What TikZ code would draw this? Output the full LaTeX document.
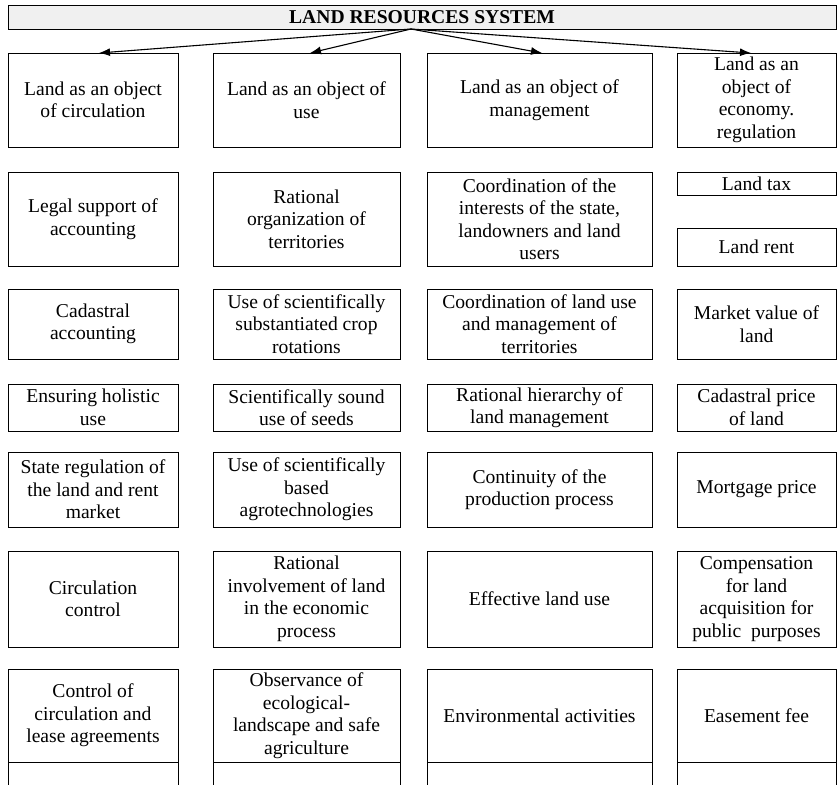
\documentclass[tikz,border=0pt]{standalone}
\usepackage{fontspec}
\setmainfont{Liberation Serif}
\usetikzlibrary{arrows.meta}
\tikzset{
  cell/.style={draw=black, line width=0.9pt, inner sep=0pt, outer sep=0pt, align=center,
    font=\fontsize{19.6}{22.5}\selectfont},
  hdrbox/.style={draw=black, line width=0.9pt, fill=gray!12, inner sep=0pt, outer sep=0pt,
    font=\fontsize{19.6}{22.5}\selectfont\bfseries, minimum width=828, minimum height=24},
  arr/.style={line width=1.1pt, -{Latex[length=11pt,width=8pt]}},
  tail/.style={line width=0.9pt}
}
\begin{document}
\begin{tikzpicture}[x=1pt,y=-1pt]
\useasboundingbox (0,0) rectangle (838,785);
% header
\node[hdrbox] (hdr) at (422,17) {LAND RESOURCES SYSTEM};
\coordinate (src) at ([xshift=-11pt]hdr.south);
\coordinate (bot) at (0,785);
% row 1
\node[cell, minimum width=170, minimum height=94] (a1) at (93,100) {Land as an object\\of circulation};
\node[cell, minimum width=187, minimum height=94] (a2) at (306.5,100) {Land as an object of\\use};
\node[cell, minimum width=225, minimum height=94] (a3) at (539.5,100) {Land as an object of\\management};
\node[cell, minimum width=159, minimum height=94] (a4) at (756.5,100) {Land as an\\object of\\economy.\\regulation};
% row 2
\node[cell, minimum width=170, minimum height=94] (b1) at (93,219) {Legal support of\\accounting};
\node[cell, minimum width=187, minimum height=94] (b2) at (306.5,219) {Rational\\organization of\\territories};
\node[cell, minimum width=225, minimum height=94] (b3) at (539.5,219) {Coordination of the\\interests of the state,\\landowners and land\\users};
\node[cell, minimum width=159, minimum height=23] (b4) at (756.5,183.5) {Land tax};
\node[cell, minimum width=159, minimum height=38] (b5) at (756.5,247) {Land rent};
% row 3
\node[cell, minimum width=170, minimum height=70] (c1) at (93,324) {Cadastral\\accounting};
\node[cell, minimum width=187, minimum height=70] (c2) at (306.5,324) {Use of scientifically\\substantiated crop\\rotations};
\node[cell, minimum width=225, minimum height=70] (c3) at (539.5,324) {Coordination of land use\\and management of\\territories};
\node[cell, minimum width=159, minimum height=70] (c4) at (756.5,324) {Market value of\\land};
% row 4
\node[cell, minimum width=170, minimum height=47] (d1) at (93,407.5) {Ensuring holistic\\use};
\node[cell, minimum width=187, minimum height=47] (d2) at (306.5,407.5) {Scientifically sound\\use of seeds};
\node[cell, minimum width=225, minimum height=47] (d3) at (539.5,407.5) {Rational hierarchy of\\land management};
\node[cell, minimum width=159, minimum height=47] (d4) at (756.5,407.5) {Cadastral price\\of land};
% row 5
\node[cell, minimum width=170, minimum height=75] (e1) at (93,489.5) {State regulation of\\the land and rent\\market};
\node[cell, minimum width=187, minimum height=75] (e2) at (306.5,489.5) {Use of scientifically\\based\\agrotechnologies};
\node[cell, minimum width=225, minimum height=75] (e3) at (539.5,489.5) {Continuity of the\\production process};
\node[cell, minimum width=159, minimum height=75] (e4) at (756.5,489.5) {Mortgage price};
% row 6
\node[cell, minimum width=170, minimum height=96] (f1) at (93,599) {Circulation\\control};
\node[cell, minimum width=187, minimum height=96] (f2) at (306.5,599) {Rational\\involvement of land\\in the economic\\process};
\node[cell, minimum width=225, minimum height=96] (f3) at (539.5,599) {Effective land use};
\node[cell, minimum width=159, minimum height=96] (f4) at (756.5,599) {Compensation\\for land\\acquisition for\\public\ \ purposes};
% row 7
\node[cell, minimum width=170, minimum height=93] (g1) at (93,715.5) {Control of\\circulation and\\lease agreements};
\node[cell, minimum width=187, minimum height=93] (g2) at (306.5,715.5) {Observance of\\ecological-\\landscape and safe\\agriculture};
\node[cell, minimum width=225, minimum height=93] (g3) at (539.5,715.5) {Environmental activities};
\node[cell, minimum width=159, minimum height=93] (g4) at (756.5,715.5) {Easement fee};
% arrows
\draw[arr] (src) -- ([xshift=6pt]a1.north);
\draw[arr] (src) -- ([xshift=3.5pt]a2.north);
\draw[arr] (src) -- ([xshift=2.5pt]a3.north);
\draw[arr] (src) -- ([xshift=-5.5pt]a4.north);
% cut-off continuation lines
\foreach \n in {g1,g2,g3,g4}{
  \draw[tail] (\n.south west) -- (\n.south west |- bot);
  \draw[tail] (\n.south east) -- (\n.south east |- bot);
}
\end{tikzpicture}
\end{document}
